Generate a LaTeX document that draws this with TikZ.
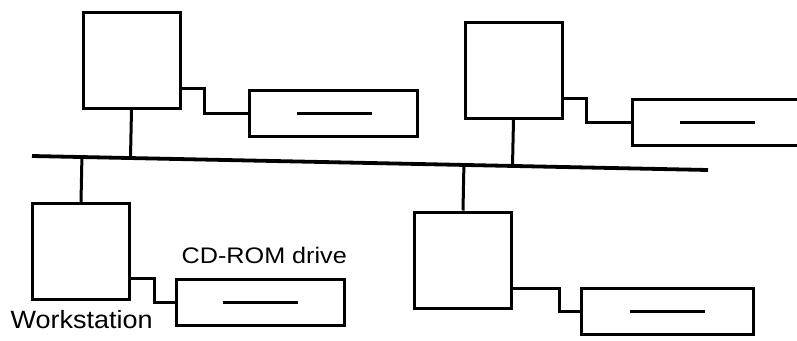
\documentclass[tikz,border=0pt]{standalone}
\usepackage{fontspec}
\setmainfont{Liberation Sans}
\usetikzlibrary{calc}
\begin{document}
\begin{tikzpicture}[x=1pt,y=-1pt,line width=3pt,
  ws/.style={draw,rectangle,minimum width=97pt,minimum height=96pt,inner sep=0pt,line join=miter},
  drive/.style={draw,rectangle,minimum width=168pt,minimum height=46pt,inner sep=0pt},
  slot/.style={line width=3.2pt},
  link/.style={line join=miter},
  bus/.style={line width=3.8pt},
  lbl/.style={inner sep=0pt,anchor=base west}]
\useasboundingbox (0,0) rectangle (797,340);
% workstations
\node[ws] (ws1) at (131.5,60) {};
\node[ws] (ws2) at (513.5,70) {};
\node[ws] (ws3) at (81,251.5) {};
\node[ws] (ws4) at (463,260) {};
% drives
\node[drive] (d1) at (333.5,113.5) {};
\node[drive] (d2) at (716.5,122.5) {};
\node[drive] (d3) at (260,302.5) {};
\node[drive,minimum width=172pt] (d4) at (667,311.5) {};
\foreach \d in {d1,d2,d3,d4}{
  \draw[slot] ($(\d.center)+(-37,0)$) -- ($(\d.center)+(38,0)$);
}
% ws to drive links
\draw[link] ([yshift=21pt]ws1.south east) -- ++(23,0) |- (d1.west);
\draw[link] ([yshift=21pt]ws2.south east) -- ++(23,0) |- (d2.west);
\draw[link] ([yshift=23pt]ws3.south east) -- ++(23,0) |- (d3.west);
\draw[link] ([yshift=21pt]ws4.south east) -- ++(46,0) |- (d4.west);
% bus
\coordinate (busL) at (32,156);
\coordinate (busR) at (708,170);
\draw[bus] (busL) -- (busR);
\draw (ws1.south) -- ($(busL)!(ws1.south)!(busR)$);
\draw (ws2.south) -- ($(busL)!(ws2.south)!(busR)$);
\draw (ws3.north) -- ($(busL)!(ws3.north)!(busR)$);
\draw (ws4.north) -- ($(busL)!(ws4.north)!(busR)$);
% labels
\node[lbl,xscale=1.12] (lcd) at (180,263) {\fontsize{22.5}{27}\selectfont CD-ROM drive};
\node[lbl,xscale=1.08] (lws) at (9,328) {\fontsize{25}{30}\selectfont Workstation};
\end{tikzpicture}
\end{document}
